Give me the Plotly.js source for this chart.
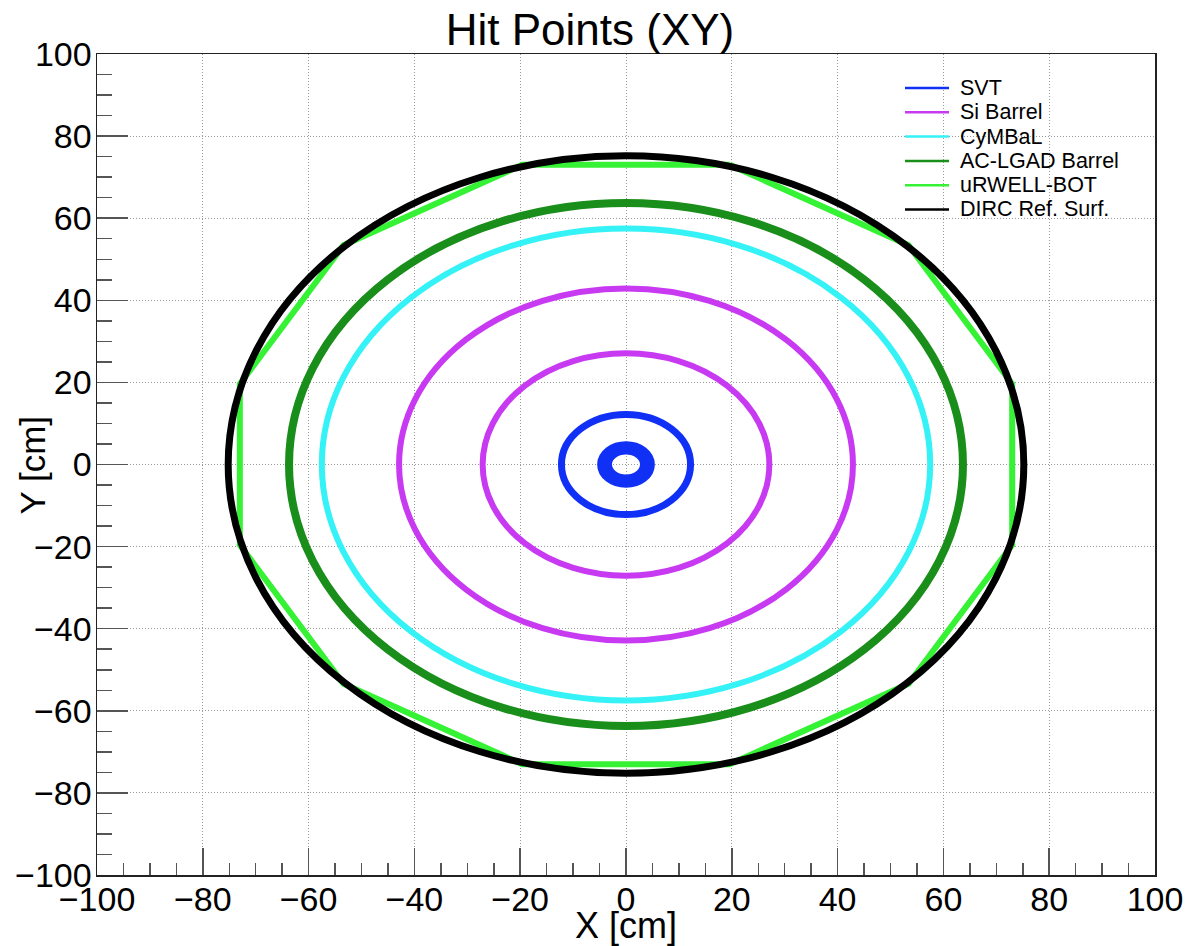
<!DOCTYPE html>
<html><head><meta charset="utf-8">
<script src="https://cdn.plot.ly/plotly-3.0.1.min.js"></script>
<style>html,body{margin:0;padding:0;background:#fff}#chart{width:1190px;height:946px}</style>
</head><body><div id="chart"></div>
<script>
// ---- data (cm) ----
const seriesNames = ['SVT', 'Si Barrel', 'CyMBaL', 'AC-LGAD Barrel', 'uRWELL-BOT', 'DIRC Ref. Surf.'];
const seriesColors = ['#1030f5', '#c83af2', '#35f2f7', '#1a8e1a', '#35f235', '#000000'];
const svtRadii = [3.4, 4.7, 12.2];
const siBarrelRadii = [27.1, 42.9];
const cymbalRadii = [57.5];
const acLgadRadii = [63.7];
const dircRadii = [75.2];
const urwellX = [19.6, 53.4, 73.0, 73.0, 53.4, 19.6, -19.6, -53.4, -73.0, -73.0, -53.4, -19.6, 19.6];
const urwellY = [73.0, 53.4, 19.6, -19.6, -53.4, -73.0, -73.0, -53.4, -19.6, 19.6, 53.4, 73.0, 73.0];
const tickVals = [-100, -80, -60, -40, -20, 0, 20, 40, 60, 80, 100];

// ---- styling ----
const FONT = 'Liberation Sans, Arial, Helvetica, sans-serif';
const ringWidths = [8, 6, 6, 8, 6, 7];

const ringSets = [svtRadii, siBarrelRadii, cymbalRadii, acLgadRadii, null, dircRadii];
const shapes = [];
ringSets.forEach((radii, i) => {
  if (!radii) return;
  radii.forEach((r, k) => {
    let w = ringWidths[i];
    if (i === 0 && k === 2) w = 7;
    shapes.push({
      type: 'circle', xref: 'x', yref: 'y',
      x0: -r, x1: r, y0: -r, y1: r,
      line: {color: seriesColors[i], width: w},
      fillcolor: 'rgba(0,0,0,0)', layer: 'above'
    });
  });
});

// legend drawn as paper-anchored samples + text
const annotations = [];
const legX0 = 0.7637, legX1 = 0.8053, legTextX = 0.8140, legTop = 0.9586, legStep = 0.0296;
seriesNames.forEach((name, i) => {
  const yy = legTop - i * legStep;
  shapes.push({type: 'line', xref: 'paper', yref: 'paper', x0: legX0, x1: legX1, y0: yy, y1: yy,
    line: {color: seriesColors[i], width: 2.5}, layer: 'above'});
  annotations.push({xref: 'paper', yref: 'paper', x: legTextX, y: yy, xanchor: 'left', yanchor: 'middle',
    text: name, showarrow: false, font: {family: FONT, size: 21.5, color: '#000'}});
});
annotations.push({xref: 'paper', yref: 'paper', x: -0.0605, y: 0.5, xanchor: 'center', yanchor: 'middle',
  text: 'Y [cm]', textangle: -90, showarrow: false, font: {family: FONT, size: 35, color: '#000'}});

const traces = [{
  type: 'scatter', mode: 'lines', x: urwellX, y: urwellY, name: seriesNames[4],
  line: {color: seriesColors[4], width: 6}, showlegend: false, hoverinfo: 'skip'
}];

const axisCommon = {
  range: [-100, 100], autorange: false, fixedrange: true,
  tickmode: 'array', tickvals: tickVals,
  ticks: 'inside', tickcolor: '#555', tickwidth: 1.5,
  showline: true, linecolor: '#222', linewidth: 1.5, mirror: true,
  showgrid: true, gridcolor: '#9a9a9a', gridwidth: 1, griddash: '1px,2px',
  zeroline: false,
  tickfont: {family: FONT, size: 34, color: '#000'},
  minor: {dtick: 5, ticks: 'inside', tickcolor: '#555', tickwidth: 1.5, showgrid: false}
};

const layout = {
  width: 1190, height: 946,
  margin: {l: 97, r: 35, t: 54, b: 71, pad: 0},
  paper_bgcolor: '#fff', plot_bgcolor: '#fff',
  showlegend: false,
  title: {text: 'Hit Points (XY)', font: {family: FONT, size: 44, color: '#000'},
    x: 590 / 1190, xref: 'container', xanchor: 'center', y: 1 - 30 / 946, yref: 'container', yanchor: 'middle'},
  xaxis: Object.assign({}, axisCommon, {ticklen: 27, minor: Object.assign({}, axisCommon.minor, {ticklen: 12}),
    ticklabelstandoff: -6,
    title: {text: 'X [cm]', font: {family: FONT, size: 36, color: '#000'}, standoff: 12}}),
  yaxis: Object.assign({}, axisCommon, {ticklen: 31, minor: Object.assign({}, axisCommon.minor, {ticklen: 15}),
    ticklabelstandoff: -3}),
  shapes: shapes,
  annotations: annotations
};

Plotly.newPlot('chart', traces, layout, {displayModeBar: false, staticPlot: true});
</script>
</body></html>
